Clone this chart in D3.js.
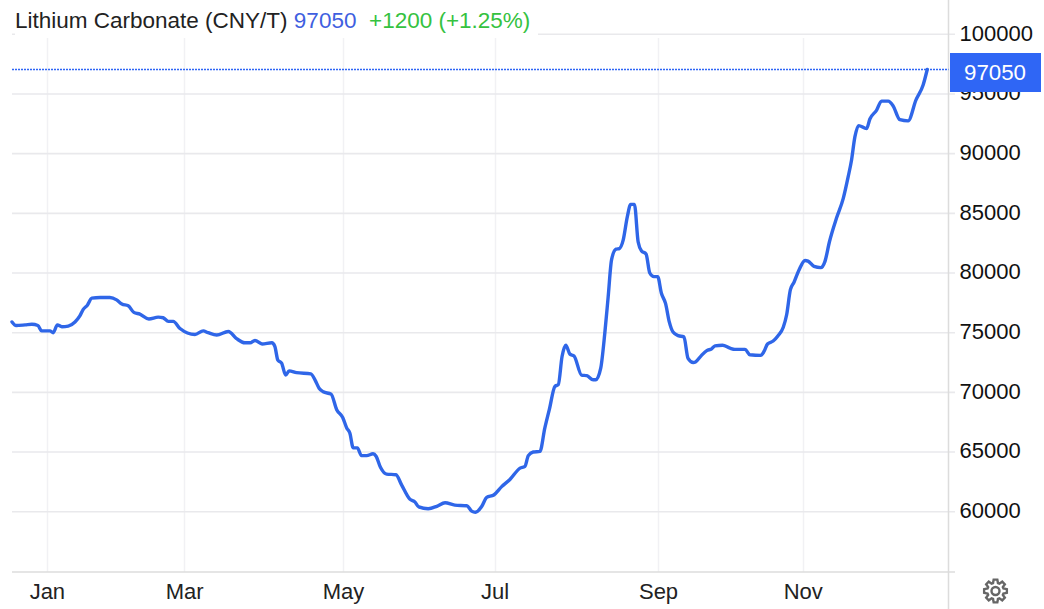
<!DOCTYPE html>
<html><head><meta charset="utf-8">
<script src="https://cdnjs.cloudflare.com/ajax/libs/d3/7.8.5/d3.min.js"></script>
<style>html,body{margin:0;padding:0;background:#fff;overflow:hidden}svg{display:block}text{font-family:"Liberation Sans",Arial,sans-serif}</style>
</head><body><svg id="c" width="1044" height="609"></svg>
<script>
const sessions=[0,1.1,3.5,5.3,6.9,7.9,10.1,11,12.1,13.3,15,16.8,18.1,19,20.1,21.3,23.5,26.1,27.9,29.3,31,32.5,34.1,36.5,39,40.3,41.7,43,44.8,48.8,51,52.3,54.6,57.7,59.9,62.1,63.5,64.8,66.7,69.3,70.1,70.9,71.9,73,73.9,75.9,79.7,80.8,81.9,83,85.1,86.6,88.2,89.3,90.1,91,92.1,93.2,94.6,96.3,97.1,98.3,99.9,102.4,103.9,106.1,107.5,108.5,111,113.3,115.5,118.1,121.3,122.6,123.6,125.3,126.6,128.5,130.6,132.8,135.5,136.8,137.7,139,140.8,142.1,143.3,144.8,145.7,146.7,147.7,148.8,149.9,151.9,153.3,155,155.7,157,158.1,159,159.9,161.1,162,163,164.1,165,166,167,167.9,169.1,170.1,171.2,172.2,173.2,174.3,175.3,176.3,177.7,179.2,180.3,181.7,182.3,183.9,185.3,186.6,187.5,189.5,191.5,192.8,195.5,196.8,199.7,200.6,201.5,203,204.3,205.7,206.6,207.6,208.6,209.9,211.5,212.3,213.9,215.7,216.8,218,219.9,221.7,223,223.9,224.8,225.8,227.9,228.8,230.6,231.9,233.7,235,236.8,239,241.1,243,244.1];
const prices=[75900,75600,75650,75700,75600,75150,75150,75000,75650,75500,75550,75900,76400,76950,77300,77900,77950,77950,77750,77400,77250,76700,76550,76150,76300,76250,75950,75950,75350,74850,75150,75000,74800,75100,74500,74150,74150,74350,74050,74150,73850,72700,72450,71450,71800,71650,71550,71050,70350,70050,69850,68550,67900,67000,66600,65350,65350,64700,64700,64850,64650,63700,63150,63100,62250,61050,60800,60400,60250,60450,60750,60550,60500,60050,59950,60450,61200,61400,62100,62700,63650,63800,64700,65000,65050,67000,68550,70500,70650,73000,73950,73200,73050,71450,71400,71050,71050,72000,74950,78000,81100,82000,82050,82750,84700,85750,85750,82600,81850,81600,80000,79700,79700,78300,77450,75900,75050,74750,74650,72850,72500,72550,73100,73500,73650,73900,73950,73700,73600,73600,73150,73100,73450,74050,74300,74750,75450,76500,78600,79250,80250,81050,81000,80550,80450,80950,82600,84600,86250,88050,89450,91400,92350,92100,92900,93650,94400,94400,94000,92850,92750,94500,95750,97050];
const yTicks=[60000,65000,70000,75000,80000,85000,90000,95000,100000];
const monthLabels=["Jan","Mar","May","Jul","Sep","Nov"];
const monthSessions=[9.3,45.9,88.3,128.7,172.3,210.9];
const title="Lithium Carbonate (CNY/T)";
const lastPrice=97050;
const changeText="+1200 (+1.25%)";

const svg=d3.select("#c");
const x=d3.scaleLinear().domain([0,244.3]).range([12,928]);
const y=d3.scaleLinear().domain([60000,100000]).range([511.7,34.3]);
const grid="#e9e9ec", axisC="#dcdcdc";
const plotR=948.5, bottom=572;

svg.append("g").selectAll("line").data(monthSessions).join("line")
 .attr("x1",d=>Math.round(x(d))+.5).attr("x2",d=>Math.round(x(d))+.5).attr("y1",38).attr("y2",bottom)
 .attr("stroke","#f1f1f4").attr("stroke-width",1.5);
svg.append("g").selectAll("line").data(yTicks).join("line")
 .attr("x1",12).attr("x2",955).attr("y1",d=>y(d)).attr("y2",d=>y(d))
 .attr("stroke",grid).attr("stroke-width",1.6);
svg.append("line").attr("x1",12).attr("x2",955).attr("y1",bottom).attr("y2",bottom).attr("stroke",axisC).attr("stroke-width",1.5);
svg.append("line").attr("x1",plotR).attr("x2",plotR).attr("y1",0).attr("y2",609).attr("stroke",axisC).attr("stroke-width",1.5);

svg.append("g").selectAll("text").data(yTicks).join("text")
 .attr("x",959.5).attr("y",d=>y(d)+6.3).attr("font-size",22).attr("fill","#111").text(d=>d);
svg.append("g").selectAll("text").data(monthLabels).join("text")
 .attr("x",(d,i)=>x(monthSessions[i])+.5).attr("y",599).attr("text-anchor","middle").attr("font-size",22).attr("fill","#222").text(d=>d);

svg.append("line").attr("x1",12).attr("x2",plotR).attr("y1",Math.floor(y(lastPrice))+.5).attr("y2",Math.floor(y(lastPrice))+.5)
 .attr("stroke","#2f66f5").attr("stroke-width",1.3).attr("stroke-dasharray","2 1");

const line=d3.line().x((d,i)=>x(sessions[i])).y(d=>y(d)).curve(d3.curveMonotoneX);
svg.append("path").attr("d",line(prices)).attr("fill","none").attr("stroke","#2f66e8").attr("stroke-width",3.4).attr("stroke-linejoin","round").attr("stroke-linecap","round");

svg.append("rect").attr("x",950).attr("y",53).attr("width",91).attr("height",39).attr("fill","#2f66f5");
svg.append("text").attr("x",995).attr("y",y(lastPrice)+10).attr("text-anchor","middle").attr("font-size",22.3).attr("fill","#fff").text(lastPrice);

svg.append("rect").attr("x",15).attr("y",0).attr("width",523).attr("height",38).attr("fill","#fff");
const t=svg.append("text").attr("x",15).attr("y",28).attr("font-size",22.5);
t.append("tspan").attr("fill","#222").text(title+" ");
t.append("tspan").attr("fill","#3f5fe0").text(lastPrice);
t.append("tspan").attr("x",369).attr("fill","#35c23f").text(changeText);

// settings gear
const teeth=8, R=11.5, r=8.3, pts=[];
d3.range(teeth).forEach(k=>{const a=k*2*Math.PI/teeth,w=.2;
 [[r,a-w*1.5],[R,a-w*.8],[R,a+w*.8],[r,a+w*1.5]].forEach(p=>pts.push([p[0]*Math.sin(p[1]),-p[0]*Math.cos(p[1])]));});
const g=svg.append("g").attr("transform","translate(995.5,591)").attr("fill","none").attr("stroke","#666").attr("stroke-width",2.4);
g.append("path").attr("d",d3.line().curve(d3.curveLinearClosed)(pts));
g.append("circle").attr("r",4);
</script></body></html>
